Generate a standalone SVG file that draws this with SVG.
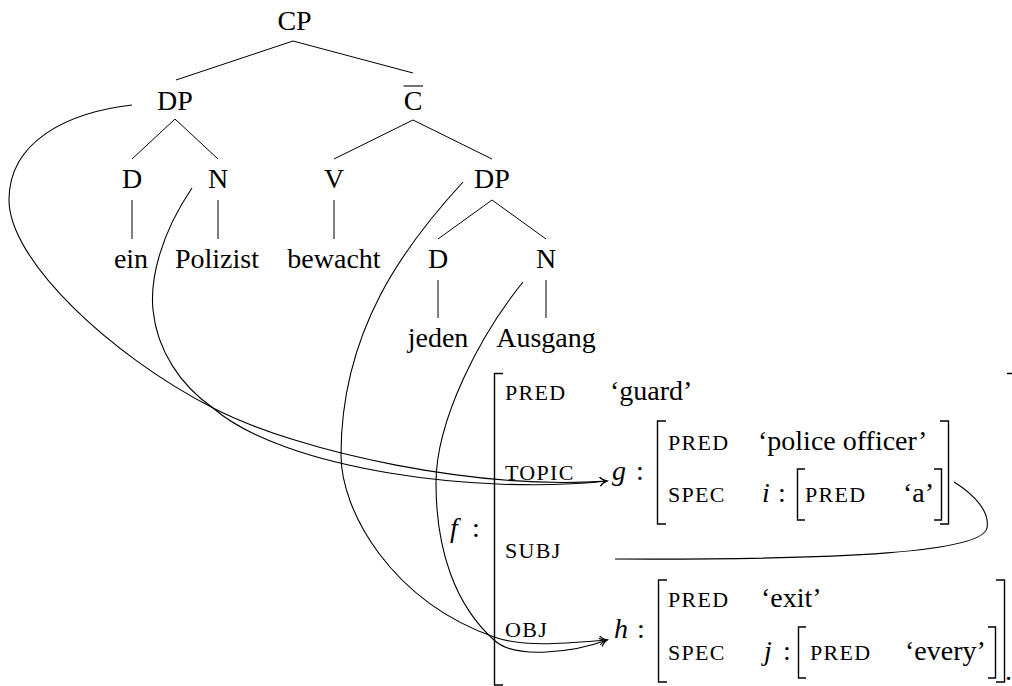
<svg xmlns="http://www.w3.org/2000/svg" width="1012" height="686" viewBox="0 0 1012 686">
<style>
text{font-family:"Liberation Serif","Times New Roman",serif;font-size:28px;fill:#000}
.t{text-anchor:middle}
.sc{font-size:22px;letter-spacing:1.3px}
.m{font-style:italic}
.e{stroke:#000;stroke-width:1;fill:none}
.b{stroke:#000;stroke-width:1.4;fill:none}
.c{stroke:#000;stroke-width:1.1;fill:none}
</style>
<defs>
<marker id="ah" markerUnits="userSpaceOnUse" markerWidth="14" markerHeight="14" viewBox="-10 -7 12 14" refX="0" refY="0" orient="auto" overflow="visible">
<path d="M-7,-4.5 C-5,-2 -2,-0.6 0,0 C-2,0.6 -5,2 -7,4.5" stroke="#000" stroke-width="1.1" fill="none"/>
</marker>
</defs>
<rect width="1012" height="686" fill="#fff"/>
<g id="tree-edges" class="e">
<line x1="293" y1="41" x2="176" y2="80"/>
<line x1="293" y1="41" x2="413" y2="73"/>
<line x1="175" y1="119" x2="132" y2="159"/>
<line x1="175" y1="119" x2="218" y2="159"/>
<line x1="413" y1="120" x2="334" y2="159"/>
<line x1="413" y1="120" x2="492" y2="159"/>
<line x1="132" y1="200" x2="132" y2="239"/>
<line x1="218" y1="200" x2="218" y2="239"/>
<line x1="334" y1="200" x2="334" y2="239"/>
<line x1="492" y1="200" x2="438" y2="239"/>
<line x1="492" y1="200" x2="546" y2="239"/>
<line x1="438" y1="280" x2="438" y2="318"/>
<line x1="546" y1="280" x2="546" y2="318"/>
</g>
<g id="n-cp"><text class="t" x="294.5" y="30">CP</text></g>
<g id="n-dp1"><text class="t" x="175" y="110">DP</text></g>
<g id="n-cbar"><text class="t" x="413" y="110">C</text><line x1="403.5" y1="86" x2="423" y2="86" stroke="#000" stroke-width="1.1"/></g>
<g id="n-d1"><text class="t" x="132" y="188">D</text></g>
<g id="n-n1"><text class="t" x="218" y="188">N</text></g>
<g id="n-v"><text class="t" x="334" y="188">V</text></g>
<g id="n-dp2"><text class="t" x="492" y="188">DP</text></g>
<g id="n-ein"><text class="t" x="131" y="268">ein</text></g>
<g id="n-polizist"><text class="t" x="217" y="268">Polizist</text></g>
<g id="n-bewacht"><text class="t" x="334" y="268">bewacht</text></g>
<g id="n-d2"><text class="t" x="438" y="268">D</text></g>
<g id="n-n2"><text class="t" x="546" y="268">N</text></g>
<g id="n-jeden"><text class="t" x="438" y="347">jeden</text></g>
<g id="n-ausgang"><text class="t" x="546" y="347">Ausgang</text></g>

<g id="f-struct">
<text class="m" x="450" y="537">f</text><text x="472" y="537">:</text>
<path class="b" d="M503,373.5 H494.5 V685 H503"/>
<path class="b" d="M1007,373.5 H1014 V686"/>
<text class="sc" x="505" y="400">PRED</text><text x="610" y="400">‘guard’</text>
<text class="sc" x="505" y="480">TOPIC</text>
<text class="sc" x="505" y="558">SUBJ</text>
<text class="sc" x="505" y="637">OBJ</text>
<text x="1005" y="680">.</text>
</g>
<g id="g-struct">
<text class="m" x="612" y="480">g</text><text x="636" y="480">:</text>
<path class="b" d="M666,421 H657.5 V524 H666"/>
<path class="b" d="M940,421 H948.5 V524 H940"/>
<text class="sc" x="668" y="450">PRED</text><text x="758" y="450">‘police officer’</text>
<text class="sc" x="668" y="502">SPEC</text>
<text class="m" x="762" y="502">i</text><text x="778" y="502">:</text>
</g>
<g id="i-struct">
<path class="b" d="M805,469 H797.5 V520 H805"/>
<path class="b" d="M934,469 H941.5 V520 H934"/>
<text class="sc" x="805" y="502">PRED</text><text x="903" y="502">‘a’</text>
</g>
<g id="h-struct">
<text class="m" x="614" y="638">h</text><text x="637" y="638">:</text>
<path class="b" d="M667,580 H658.5 V682 H667"/>
<path class="b" d="M996,580 H1004.5 V682 H996"/>
<text class="sc" x="668" y="607">PRED</text><text x="761" y="607">‘exit’</text>
<text class="sc" x="668" y="660">SPEC</text>
<text class="m" x="764" y="660">j</text><text x="783" y="660">:</text>
</g>
<g id="j-struct">
<path class="b" d="M806,627 H798.5 V678 H806"/>
<path class="b" d="M988,627 H995.5 V678 H988"/>
<text class="sc" x="810" y="660">PRED</text><text x="905" y="660">‘every’</text>
</g>

<g id="connectors" class="c">
<path d="M132,105 C70,112 9,140 9,200 C9,260 110,355 213,408 C303,454 480,490 607,481" marker-end="url(#ah)"/>
<path d="M192,188 C160,235 150,280 153,310 C157,350 180,385 213,408 C285,470 480,495 607,481" marker-end="url(#ah)"/>
<path d="M463,182 C405,245 341,330 341,455 C341,510 390,600 494,637 C525,648 570,643 607,640" marker-end="url(#ah)"/>
<path d="M523,282 C480,335 436,420 436,483 C436,550 455,605 494,640 C515,660 575,652 607,640" marker-end="url(#ah)"/>
<path d="M954,482 C975,495 990,512 987,528 C982,552 850,560 615,559"/>
</g>
</svg>
